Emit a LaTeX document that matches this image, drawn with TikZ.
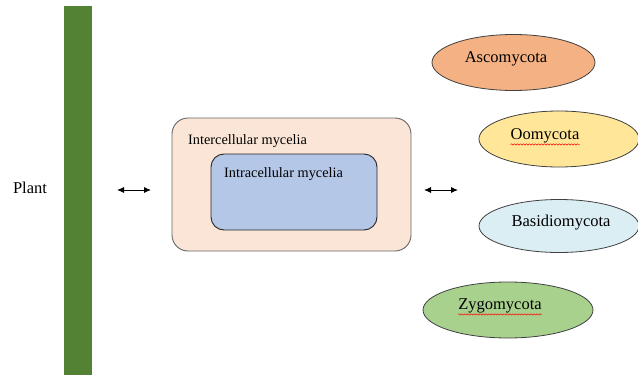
\documentclass[tikz,border=0pt]{standalone}
\usepackage{fontspec}
\setmainfont{Liberation Serif}
\newfontfamily\tnr{Liberation Serif}
\usetikzlibrary{shapes.geometric,arrows.meta,decorations.pathmorphing}
\definecolor{plantgreen}{HTML}{548235}
\definecolor{outerfill}{HTML}{FBE5D6}
\definecolor{innerfill}{HTML}{B4C7E7}
\definecolor{ascofill}{HTML}{F4B183}
\definecolor{oofill}{HTML}{FFE699}
\definecolor{basfill}{HTML}{DAEEF3}
\definecolor{zygfill}{HTML}{A9D18E}
\tikzset{
  phylum/.style={ellipse, draw=black!75, line width=0.8pt, minimum width=#1, minimum height=56pt, inner sep=0pt},
  phylumtxt/.style={font=\tnr\fontsize{16.5}{18}\selectfont, inner sep=0pt},
  boxtxt/.style={font=\tnr\fontsize{14.3}{16}\selectfont, inner sep=0pt, anchor=west},
  dblarrow/.style={{Latex[length=7pt,width=6pt]}-{Latex[length=7pt,width=6pt]}, line width=0.9pt},
  squiggle/.style={red, line width=0.5pt, decorate, decoration={snake, amplitude=0.7pt, segment length=3pt}}
}
\begin{document}
\begin{tikzpicture}[x=1pt,y=-1pt]
\useasboundingbox (0,0) rectangle (638,380);
% plant bar
\fill[plantgreen] (64,6) rectangle (92,375);
\node[font=\tnr\fontsize{16.5}{18}\selectfont, inner sep=0pt] (plant) at (30,188) {Plant};
% arrows
\coordinate (la1) at (117,190);
\coordinate (la2) at (151,190);
\draw[dblarrow] (la1) -- (la2);
\coordinate (ra1) at (424,190);
\coordinate (ra2) at (458,190);
\draw[dblarrow] (ra1) -- (ra2);
% boxes
\draw[draw=black!60, line width=0.9pt, fill=outerfill, rounded corners=16pt] (172,118) rectangle (411,251);
\node[boxtxt] (inter) at (188,141) {Intercellular mycelia};
\draw[draw=black!85, line width=0.9pt, fill=innerfill, rounded corners=13pt] (211,154) rectangle (377,230);
\node[boxtxt] (intra) at (224,174) {Intracellular mycelia};
% phyla
\node[phylum=163pt, fill=ascofill] (asco) at (513.5,62.5) {};
\node[phylumtxt] (ascot) at (506,59) {Ascomycota};
\node[phylum=160pt, fill=oofill] (oo) at (559,139) {};
\node[phylumtxt] (oot) at (545,136) {Oomycota};
\node[phylum=160pt, fill=basfill, minimum height=53pt] (bas) at (559,226) {};
\node[phylumtxt] (bast) at (561,223) {Basidiomycota};
\node[phylum=170pt, fill=zygfill] (zyg) at (508,310) {};
\node[phylumtxt] (zygt) at (500,306) {Zygomycota};
% spell-check squiggles
\draw[squiggle] ([yshift=-1pt]oot.south west) -- ([yshift=-1pt]oot.south east);
\draw[squiggle] ([yshift=-1pt]zygt.south west) -- ([yshift=-1pt]zygt.south east);
\end{tikzpicture}
\end{document}
